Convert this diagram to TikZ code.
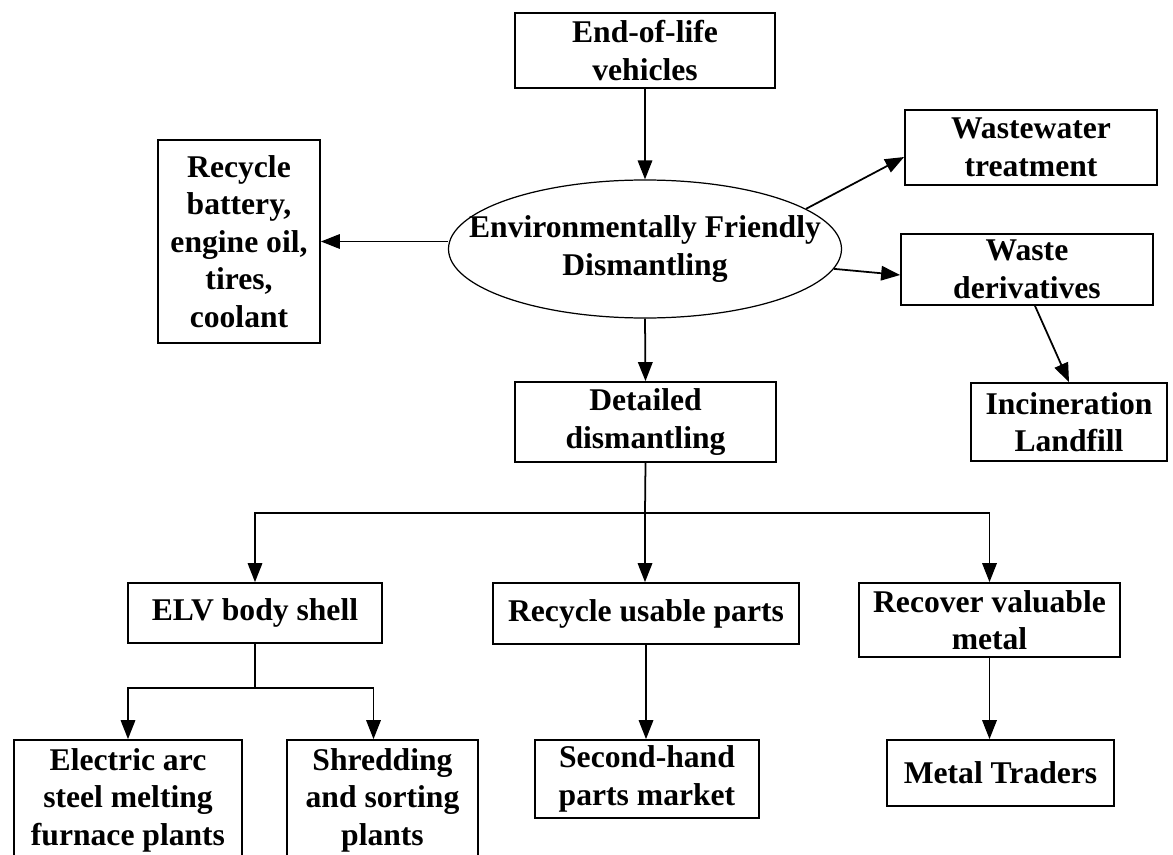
\documentclass[tikz,border=0pt]{standalone}
\usepackage{fontspec}
\setmainfont{Liberation Serif}
\usetikzlibrary{arrows.meta,shapes.geometric,calc}
\begin{document}
\begin{tikzpicture}[x=0.02cm,y=-0.02cm,
  every node/.style={font=\fontsize{18}{21.4}\selectfont\bfseries, align=center, inner sep=0pt},
  bx/.style 2 args={draw, line width=1pt, minimum width=#1*0.02cm, minimum height=#2*0.02cm},
  arr/.style={-{Triangle[length=0.38cm,width=0.29cm]}, line width=1pt},
  ln/.style={line width=1pt}]
\fill[white] (0,0) rectangle (1173,855);
\clip (0,0) rectangle (1173,855);

% top part
\node[bx={260}{75}] (eol) at (645,50.5) {End-of-life\\vehicles};
\node[draw, ellipse, line width=0.7pt, minimum width=393*0.02cm, minimum height=138*0.02cm] (ell) at (645,249) {};
\node (ellt) at (645,249) {Environmentally Friendly\\Dismantling};
\node[bx={162}{203}] (rb) at (239,241.5) {Recycle\\battery,\\engine oil,\\tires,\\coolant};
\node[bx={252}{75}] (ww) at (1031,147.5) {Wastewater\\treatment};
\node[bx={252}{71}] (wd) at (1027,269.5) {Waste\\derivatives};
\node[bx={196}{78}] (inc) at (1069,422) {Incineration\\Landfill};
\node[bx={261}{80}] (det) at (645.5,422) {Detailed\\dismantling};

% second level
\node[bx={254}{60}] (elv) at (255,613) {ELV body shell};
\node[bx={306}{61}] (rup) at (646,613.5) {Recycle usable parts};
\node[bx={261}{74}] (rvm) at (989.5,620) {Recover valuable\\metal};

% bottom level
\node[bx={228}{120}] (eaf) at (128,800) {Electric arc\\steel melting\\furnace plants};
\node[bx={191}{120}] (shr) at (382.5,800) {Shredding\\and sorting\\plants};
\node[bx={224}{78}] (sh) at (647,779) {Second-hand\\parts market};
\node[bx={227}{66}] (mt) at (1000.5,773) {Metal Traders};

% connectors
\draw[arr] (eol.south) -- (ell.north);
\draw[arr] (ell.west |- rb.east) -- (rb.east);
\draw[arr] (ell.14) -- ([yshift=-0.19cm]ww.west);
\draw[arr] (ell.-6) -- ([yshift=-0.11cm]wd.west);
\draw[arr] ([xshift=0.16cm]wd.south) -- (inc.north);
\draw[arr] (ell.south) -- (det.north);

\coordinate (bus) at (645,513);
\draw[ln] (det.south) -- (bus);
\draw[arr] (bus) -| (elv.north);
\draw[arr] (bus) -- (bus |- rup.north);
\draw[arr] (bus) -| (rvm.north);

\coordinate (sbus) at (255,688);
\draw[ln] (elv.south) -- (sbus);
\draw[arr] (sbus) -| (eaf.north);
\draw[arr] (sbus) -| ([xshift=-0.18cm]shr.north);

\draw[arr] (rup.south) -- (rup.south |- sh.north);
\draw[arr] (rvm.south) -- (rvm.south |- mt.north);
\end{tikzpicture}
\end{document}
